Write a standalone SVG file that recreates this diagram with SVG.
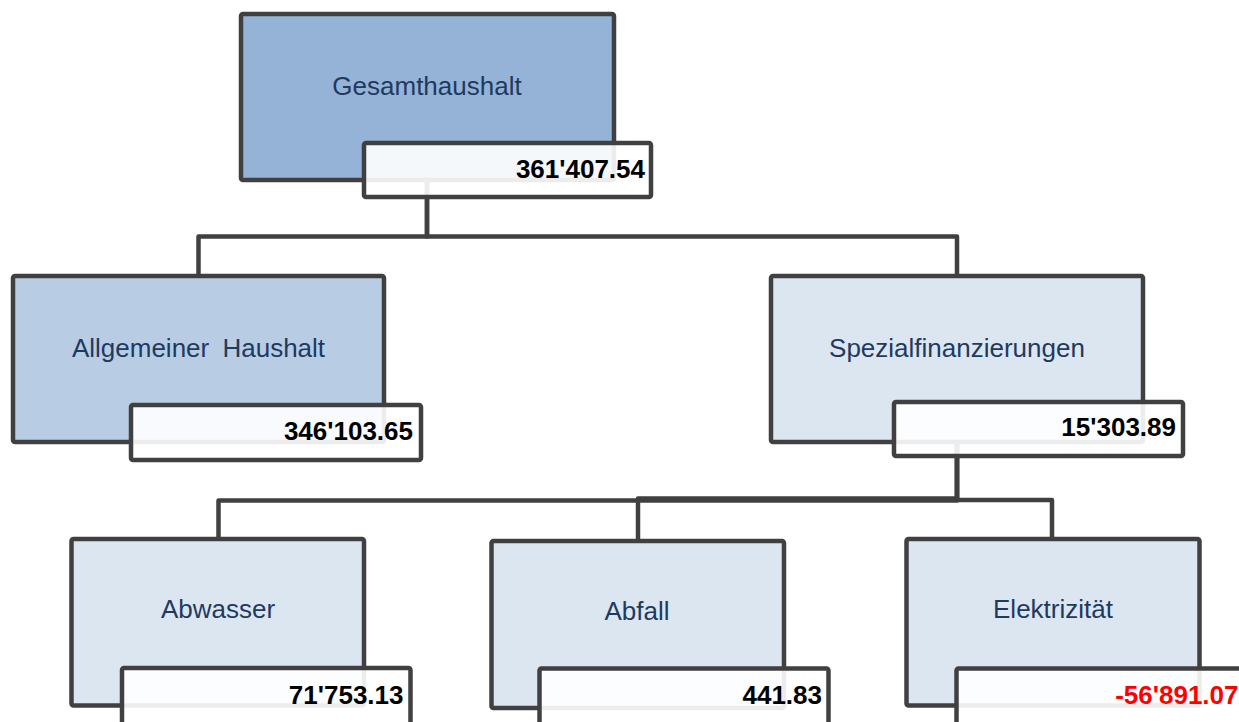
<svg xmlns="http://www.w3.org/2000/svg" width="1239" height="722" viewBox="0 0 1239 722">
<style>
.box{stroke:#404040;stroke-width:4.5;stroke-linejoin:round}
.l1{fill:#95b3d7}
.l2{fill:#b8cce4}
.l3{fill:#dce6f1}
.val{fill:#ffffff;fill-opacity:0.9;stroke:#404040;stroke-width:4.5;stroke-linejoin:round}
.lbl{font-family:"Liberation Sans",Arial,sans-serif;font-size:26px;fill:#1f3a5f;text-anchor:middle}
.num{font-family:"Liberation Sans",Arial,sans-serif;font-size:26px;font-weight:bold;fill:#000;text-anchor:end}
.neg{fill:#ff0000}
.con{fill:none;stroke:#404040;stroke-width:4.5;stroke-linejoin:round}
</style>
<rect width="1239" height="722" fill="#ffffff"/>
<g id="connectors">
<path class="con" d="M427 180 V236.5 H198.5 V276"/>
<path class="con" d="M427 180 V236.5 H957 V276"/>
<path class="con" d="M957 442 V500.5 H218.5 V539"/>
<path class="con" d="M957 442 V498.5 H638 V541"/>
<path class="con" d="M957 442 V500 H1052 V539"/>
</g>
<g id="gesamthaushalt">
<rect class="box l1" x="241" y="14" width="373" height="166" rx="2"/>
<text class="lbl" x="427" y="95">Gesamthaushalt</text>
<rect class="val" x="364" y="143" width="287" height="54" rx="2"/>
<text class="num" x="645" y="178">361'407.54</text>
</g>
<g id="allgemeiner-haushalt">
<rect class="box l2" x="13" y="276" width="371" height="166" rx="2"/>
<text class="lbl" x="198.5" y="357" word-spacing="6">Allgemeiner Haushalt</text>
<rect class="val" x="131" y="405" width="290" height="55" rx="2"/>
<text class="num" x="413" y="440">346'103.65</text>
</g>
<g id="spezialfinanzierungen">
<rect class="box l3" x="771" y="276" width="372" height="166" rx="2"/>
<text class="lbl" x="957" y="357">Spezialfinanzierungen</text>
<rect class="val" x="894" y="402" width="289" height="54" rx="2"/>
<text class="num" x="1176" y="436">15'303.89</text>
</g>
<g id="abwasser">
<rect class="box l3" x="71.5" y="539" width="292.5" height="166.5" rx="2"/>
<text class="lbl" x="218" y="618">Abwasser</text>
<rect class="val" x="122" y="668" width="288.5" height="60" rx="2"/>
<text class="num" x="403.5" y="704">71'753.13</text>
</g>
<g id="abfall">
<rect class="box l3" x="491.5" y="541" width="292.5" height="167" rx="2"/>
<text class="lbl" x="637" y="620">Abfall</text>
<rect class="val" x="539.5" y="668.5" width="289" height="60" rx="2"/>
<text class="num" x="822" y="704">441.83</text>
</g>
<g id="elektrizitaet">
<rect class="box l3" x="906.5" y="539" width="293" height="166.5" rx="2"/>
<text class="lbl" x="1053" y="618">Elektrizität</text>
<rect class="val" x="956.5" y="668.5" width="290" height="60" rx="2"/>
<text class="num neg" x="1238.5" y="704">-56'891.07</text>
</g>
</svg>
